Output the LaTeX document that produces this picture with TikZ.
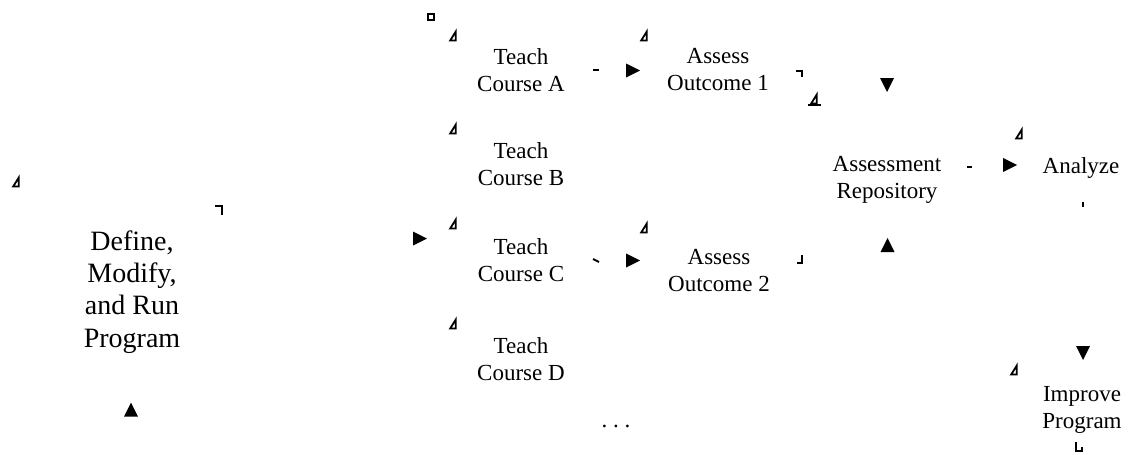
\documentclass[tikz,border=0pt]{standalone}
\usepackage{fontspec}
\setmainfont{Liberation Serif}
\usepackage{tikz}
\usetikzlibrary{positioning, calc}

\tikzset{
  steptext/.style={align=center, inner sep=0pt, font=\fontsize{23}{27}\selectfont},
  bigtext/.style={align=center, inner sep=0pt, font=\fontsize{28}{32.3}\selectfont},
  bit/.style={line width=1.8pt, line cap=butt, line join=miter},
  tipmark/.pic={\fill (-7,-7) -- (7,0) -- (-7,7) -- cycle;},
  wedgemark/.pic={\draw[bit] (2.8,-4.5) -- (2.8,4.5) -- (-2.8,4.5) -- cycle;}
}

\begin{document}
\begin{tikzpicture}[x=1pt, y=-1pt]
      \useasboundingbox (0,0) rectangle (1128,455);

      \node[bigtext] (define) at (132,292) {Define,\\Modify,\\and Run\\Program};
      \node[steptext] (teachA) at (521,70) {Teach\\Course A};
      \node[steptext] (teachB) at (521,164) {Teach\\Course B};
      \node[steptext] (teachC) at (521,260) {Teach\\Course C};
      \node[steptext] (teachD) at (521,359) {Teach\\Course D};
      \node[steptext] (assessA) at (718,70) {Assess\\Outcome 1};
      \node[steptext] (assessB) at (719,271) {Assess\\Outcome 2};
      \node[steptext] (repo) at (887,180) {Assessment\\Repository};
      \node[steptext] (analyze) at (1081,168.5) {Analyze};
      \node[steptext] (improve) at (1082,410) {Improve\\Program};
      \node[steptext] (dots) at (616,426) {.\ .\ .};

      % arrow heads
      \pic at (633,70.5) {tipmark};
      \pic at (420,238.5) {tipmark};
      \pic at (633,260.5) {tipmark};
      \pic at (1010,165) {tipmark};
      \pic[rotate=-90] at (887,85) {tipmark};
      \pic[rotate=-90] at (1083,353) {tipmark};
      \pic[rotate=90] at (887.5,245) {tipmark};
      \pic[rotate=90] at (131,409.5) {tipmark};

      % corner bits
      \foreach \x/\y in {453/36, 644/36, 453/129, 453/224, 644/228, 453/324,
                         16/182, 1019/134, 1014/370, 814/99}
        \pic at (\x,\y) {wedgemark};
      \draw[bit] (808,105) -- (821,105);
      \draw[bit, line width=1.3pt] (428,14) rectangle (434,20);
      \draw[bit] (215,206) -- (222,206) -- (222,215);
      \draw[bit] (796,71) -- (802,71) -- (802,77);
      \draw[bit] (802,255) -- (802,263) -- (797,263);
      \draw[bit] (1076,442) -- (1076,451) -- (1082,451) -- (1082,447);
      \draw[bit] (593,70) -- (599,70);
      \draw[bit] (967,167) -- (972,167);
      \draw[bit] (593,259) -- (599,262);
      \draw[bit] (1083,202) -- (1083,207);
    \end{tikzpicture}
\end{document}
